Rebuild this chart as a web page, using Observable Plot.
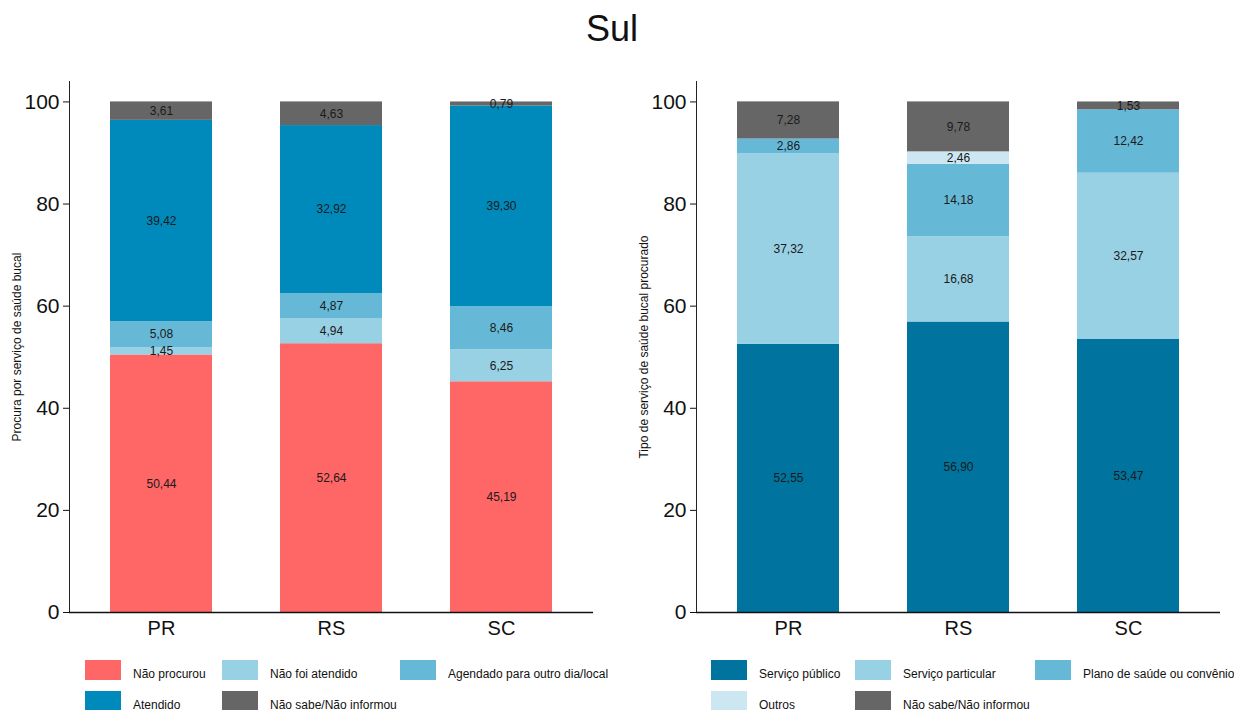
<!DOCTYPE html>
<html>
<head>
<meta charset="utf-8">
<script src="https://cdn.jsdelivr.net/npm/d3@7"></script>
<script src="https://cdn.jsdelivr.net/npm/@observablehq/plot@0.6"></script>
<style>
  html, body { margin: 0; padding: 0; background: #fff; }
  body { width: 1234px; height: 710px; position: relative; overflow: hidden; font-family: "Liberation Sans", Arial, sans-serif; color: #111; }
  #title { position: absolute; left: 0; width: 1224px; top: 11px; font-size: 36px; line-height: 36px; text-align: center; }
  .panel { position: absolute; top: 60px; width: 617px; height: 592px; }
  .panel svg { max-width: none !important; width: 617px; height: 592px; display: block; }
  .legend { position: absolute; top: 660px; display: grid; row-gap: 10px; font-size: 12px; }
  .item { display: flex; align-items: flex-start; }
  .sw { width: 36px; height: 20px; margin-right: 12px; flex: none; }
  .lab { padding-top: 7px; line-height: 14px; white-space: nowrap; }
</style>
</head>
<body>
<div id="title">Sul</div>
<div id="left" class="panel" style="left:0px"></div>
<div id="right" class="panel" style="left:627px"></div>
<div id="legLeft" class="legend" style="left:85px; grid-template-columns: 137px 178px auto;"></div>
<div id="legRight" class="legend" style="left:711px; grid-template-columns: 144px 180px auto;"></div>
<script>
// ---- Data ----
const ufs = ["PR", "RS", "SC"];

// Left chart: Procura por serviço de saúde bucal
const leftCats = ["Não procurou", "Não foi atendido", "Agendado para outro dia/local", "Atendido", "Não sabe/Não informou"];
const leftColors = ["#FF6666", "#99D1E4", "#66B8D7", "#008ABC", "#666666"];
const naoProcurou = [50.44, 52.64, 45.19];
const naoFoiAtendido = [1.45, 4.94, 6.25];
const agendado = [5.08, 4.87, 8.46];
const atendido = [39.42, 32.92, 39.30];
const naoSabeLeft = [3.61, 4.63, 0.79];

// Right chart: Tipo de serviço de saúde bucal procurado
const rightCats = ["Serviço público", "Serviço particular", "Plano de saúde ou convênio", "Outros", "Não sabe/Não informou"];
const rightColors = ["#00739F", "#99D1E4", "#66B8D7", "#CCE7F1", "#666666"];
const servicoPublico = [52.55, 56.90, 53.47];
const servicoParticular = [37.32, 16.68, 32.57];
const planoSaude = [2.86, 14.18, 12.42];
const outros = [0, 2.46, 0];
const naoSabeRight = [7.28, 9.78, 1.53];

const yTicks = [0, 20, 40, 60, 80, 100];

function toRows(cats, series) {
  const rows = [];
  cats.forEach((c, i) => ufs.forEach((u, j) => rows.push({uf: u, cat: c, value: series[i][j]})));
  return rows;
}
const leftRows = toRows(leftCats, [naoProcurou, naoFoiAtendido, agendado, atendido, naoSabeLeft]);
const rightRows = toRows(rightCats, [servicoPublico, servicoParticular, planoSaude, outros, naoSabeRight]);

const fmt = v => v.toFixed(2).replace(".", ",");

function chart(rows, cats, colors, ylabel) {
  const stackOpts = {x: "uf", y: "value", z: "cat", order: cats};
  return Plot.plot({
    width: 617,
    height: 592,
    marginTop: 21,
    marginBottom: 40,
    marginLeft: 69,
    marginRight: 24,
    style: {fontFamily: "Liberation Sans, Arial, sans-serif", color: "#111", background: "transparent"},
    x: {domain: ufs, paddingInner: 0.4, paddingOuter: 0.24, label: null},
    y: {domain: [0, 104], label: null},
    color: {domain: cats, range: colors},
    marks: [
      Plot.barY(rows, Plot.stackY({...stackOpts, fill: "cat"})),
      Plot.text(rows.filter(d => d.value > 0), Plot.stackY({...stackOpts, text: d => fmt(d.value), fontSize: 12, fill: "#1a1a1a"})),
      Plot.axisY({ticks: yTicks, tickSize: 6, tickPadding: 4, fontSize: 21, label: null, tickFormat: d => d}),
      Plot.axisY({ticks: [], tickSize: 0, label: ylabel, labelAnchor: "center", labelArrow: "none", labelOffset: 57, fontSize: 12}),
      Plot.axisX({tickSize: 0, tickPadding: 8, fontSize: 20, label: null}),
      Plot.frame({anchor: "left", stroke: "#222"}),
      Plot.ruleY([0], {stroke: "#111", strokeWidth: 1.3})
    ]
  });
}

document.getElementById("left").appendChild(chart(leftRows, leftCats, leftColors, "Procura por serviço de saúde bucal"));
document.getElementById("right").appendChild(chart(rightRows, rightCats, rightColors, "Tipo de serviço de saúde bucal procurado"));

function legend(el, cats, colors) {
  cats.forEach((c, i) => {
    const it = document.createElement("div");
    it.className = "item";
    it.innerHTML = `<div class="sw" style="background:${colors[i]}"></div><div class="lab"></div>`;
    it.querySelector(".lab").textContent = c;
    el.appendChild(it);
  });
}
legend(document.getElementById("legLeft"), leftCats, leftColors);
legend(document.getElementById("legRight"), rightCats, rightColors);
</script>
</body>
</html>
